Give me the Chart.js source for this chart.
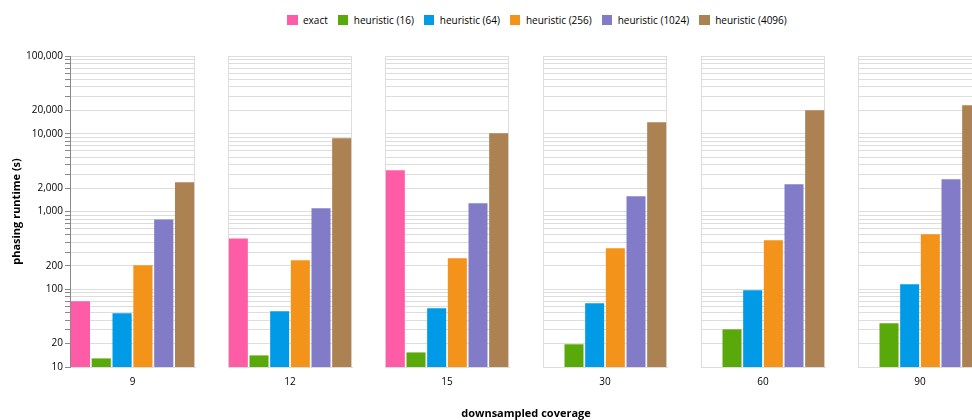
<!DOCTYPE html>
<html>
<head>
<meta charset="utf-8">
<script src="https://cdn.jsdelivr.net/npm/chart.js@4.4.1/dist/chart.umd.min.js"></script>
<style>
  html, body { margin: 0; padding: 0; background: #fff; }
  body { width: 972px; height: 420px; overflow: hidden; position: relative; font-family: "Open Sans", sans-serif; }
  .panel { position: absolute; top: 0; }
  #legend { position: absolute; left: 287px; top: 13px; display: flex; align-items: center; font-size: 10px; line-height: 14px; color: #000; white-space: nowrap; }
  #legend .item { display: flex; align-items: center; margin-right: 10px; }
  #legend .sw { width: 10.5px; height: 10.5px; margin-right: 5.5px; }
  #xtitle { position: absolute; left: 376px; width: 300px; top: 405px; text-align: center; font-size: 11px; font-weight: bold; line-height: 15px; color: #000; }
</style>
</head>
<body>
<div id="legend"></div>
<div id="panels"></div>
<div id="xtitle">downsampled coverage</div>
<script>
// Downsampled coverage levels (one facet per level)
const coverage = ['9', '12', '15', '30', '60', '90'];

// Series (legend order) and their colours
const seriesNames = ['exact', 'heuristic (16)', 'heuristic (64)', 'heuristic (256)', 'heuristic (1024)', 'heuristic (4096)'];
const seriesColors = ['#ff5ca8', '#5aa90a', '#009ae6', '#f39319', '#827cc8', '#ad8253'];

// Phasing runtime in seconds, per coverage level
const exact         = [70,   450,  3390,  null,  null,  null];
const heuristic16   = [12.9, 14.1, 15.4,  19.6,  30.5,  36.5];
const heuristic64   = [49,   52,   57,    66,    97,    116];
const heuristic256  = [203,  236,  250,   336,   426,   509];
const heuristic1024 = [790,  1100, 1275,  1570,  2240,  2600];
const heuristic4096 = [2380, 8730, 10140, 14060, 20040, 23270];
const seriesValues = [exact, heuristic16, heuristic64, heuristic256, heuristic1024, heuristic4096];

// Log axis: labelled ticks and the multipliers used for minor grid lines
const yTickLabels = [10, 20, 100, 200, 1000, 2000, 10000, 20000, 100000];
const yMin = 10, yMax = 100000;
const gridMultipliers = [1, 2, 3, 4, 5, 6, 7, 8, 9];

const gridValues = [];
for (let d = yMin; d < yMax; d *= 10) {
  gridMultipliers.forEach(m => gridValues.push(m * d));
}
gridValues.push(yMax);

// Legend
const legend = document.getElementById('legend');
seriesNames.forEach((name, i) => {
  const item = document.createElement('div');
  item.className = 'item';
  const sw = document.createElement('div');
  sw.className = 'sw';
  sw.style.background = seriesColors[i];
  const label = document.createElement('span');
  label.textContent = name;
  item.appendChild(sw);
  item.appendChild(label);
  legend.appendChild(item);
});

// Facet layout
const panelLefts = [70, 228, 385, 543, 701, 858];
const panelWidth = 125;
const plotTop = 56;
const plotBottom = 367;
const canvasHeight = 420;
const axisWidth = 70;

// Right edge of each facet frame
const frameRight = {
  id: 'frameRight',
  beforeDatasetsDraw(chart) {
    const { ctx, chartArea } = chart;
    ctx.save();
    ctx.strokeStyle = '#dddddd';
    ctx.lineWidth = 1;
    ctx.beginPath();
    ctx.moveTo(chartArea.right - 0.5, chartArea.top);
    ctx.lineTo(chartArea.right - 0.5, chartArea.bottom);
    ctx.stroke();
    ctx.restore();
  }
};

const panelsEl = document.getElementById('panels');
const FONT = '"Open Sans", sans-serif';

coverage.forEach((cov, p) => {
  const first = p === 0;
  const left = first ? 0 : panelLefts[p] - 1;
  const width = first ? axisWidth + panelWidth + 2 : panelWidth + 2;
  const canvas = document.createElement('canvas');
  canvas.className = 'panel';
  canvas.width = width;
  canvas.height = canvasHeight;
  canvas.style.left = left + 'px';
  canvas.style.width = width + 'px';
  canvas.style.height = canvasHeight + 'px';
  panelsEl.appendChild(canvas);

  new Chart(canvas, {
    type: 'bar',
    data: {
      labels: [cov],
      datasets: seriesNames.map((name, i) => ({
        label: name,
        data: [seriesValues[i][p]],
        backgroundColor: seriesColors[i],
        borderWidth: 0,
        barPercentage: 0.92,
        categoryPercentage: 1.0
      }))
    },
    options: {
      responsive: false,
      animation: false,
      devicePixelRatio: 1,
      layout: { padding: { top: plotTop, bottom: 0, left: first ? 0 : 1, right: 2 } },
      plugins: { legend: { display: false }, tooltip: { enabled: false } },
      scales: {
        x: {
          type: 'category',
          grid: { display: false, drawTicks: false },
          border: { display: true, color: '#dddddd', width: 1 },
          ticks: { color: '#000', font: { family: FONT, size: 10 }, padding: 9, maxRotation: 0 },
          afterFit(scale) { scale.height = canvasHeight - plotBottom; }
        },
        y: {
          type: 'logarithmic',
          min: yMin,
          max: yMax,
          afterBuildTicks(scale) { scale.ticks = gridValues.map(v => ({ value: v })); },
          afterFit(scale) { scale.width = first ? axisWidth : 0; },
          grid: {
            color: '#dddddd',
            lineWidth: 1,
            drawTicks: first,
            tickLength: 5,
            tickColor: '#888888'
          },
          border: { display: true, color: first ? '#888888' : '#dddddd', width: 1 },
          ticks: {
            display: first,
            autoSkip: false,
            padding: 2,
            color: '#000',
            font: { family: FONT, size: 10 },
            callback: (v) => yTickLabels.includes(v) ? v.toLocaleString('en-US') : ''
          },
          title: {
            display: first,
            text: 'phasing runtime (s)',
            color: '#000',
            font: { family: FONT, size: 11, weight: 'bold' },
            padding: { top: 10, bottom: 0 }
          }
        }
      }
    },
    plugins: [frameRight]
  });
});
</script>
</body>
</html>
